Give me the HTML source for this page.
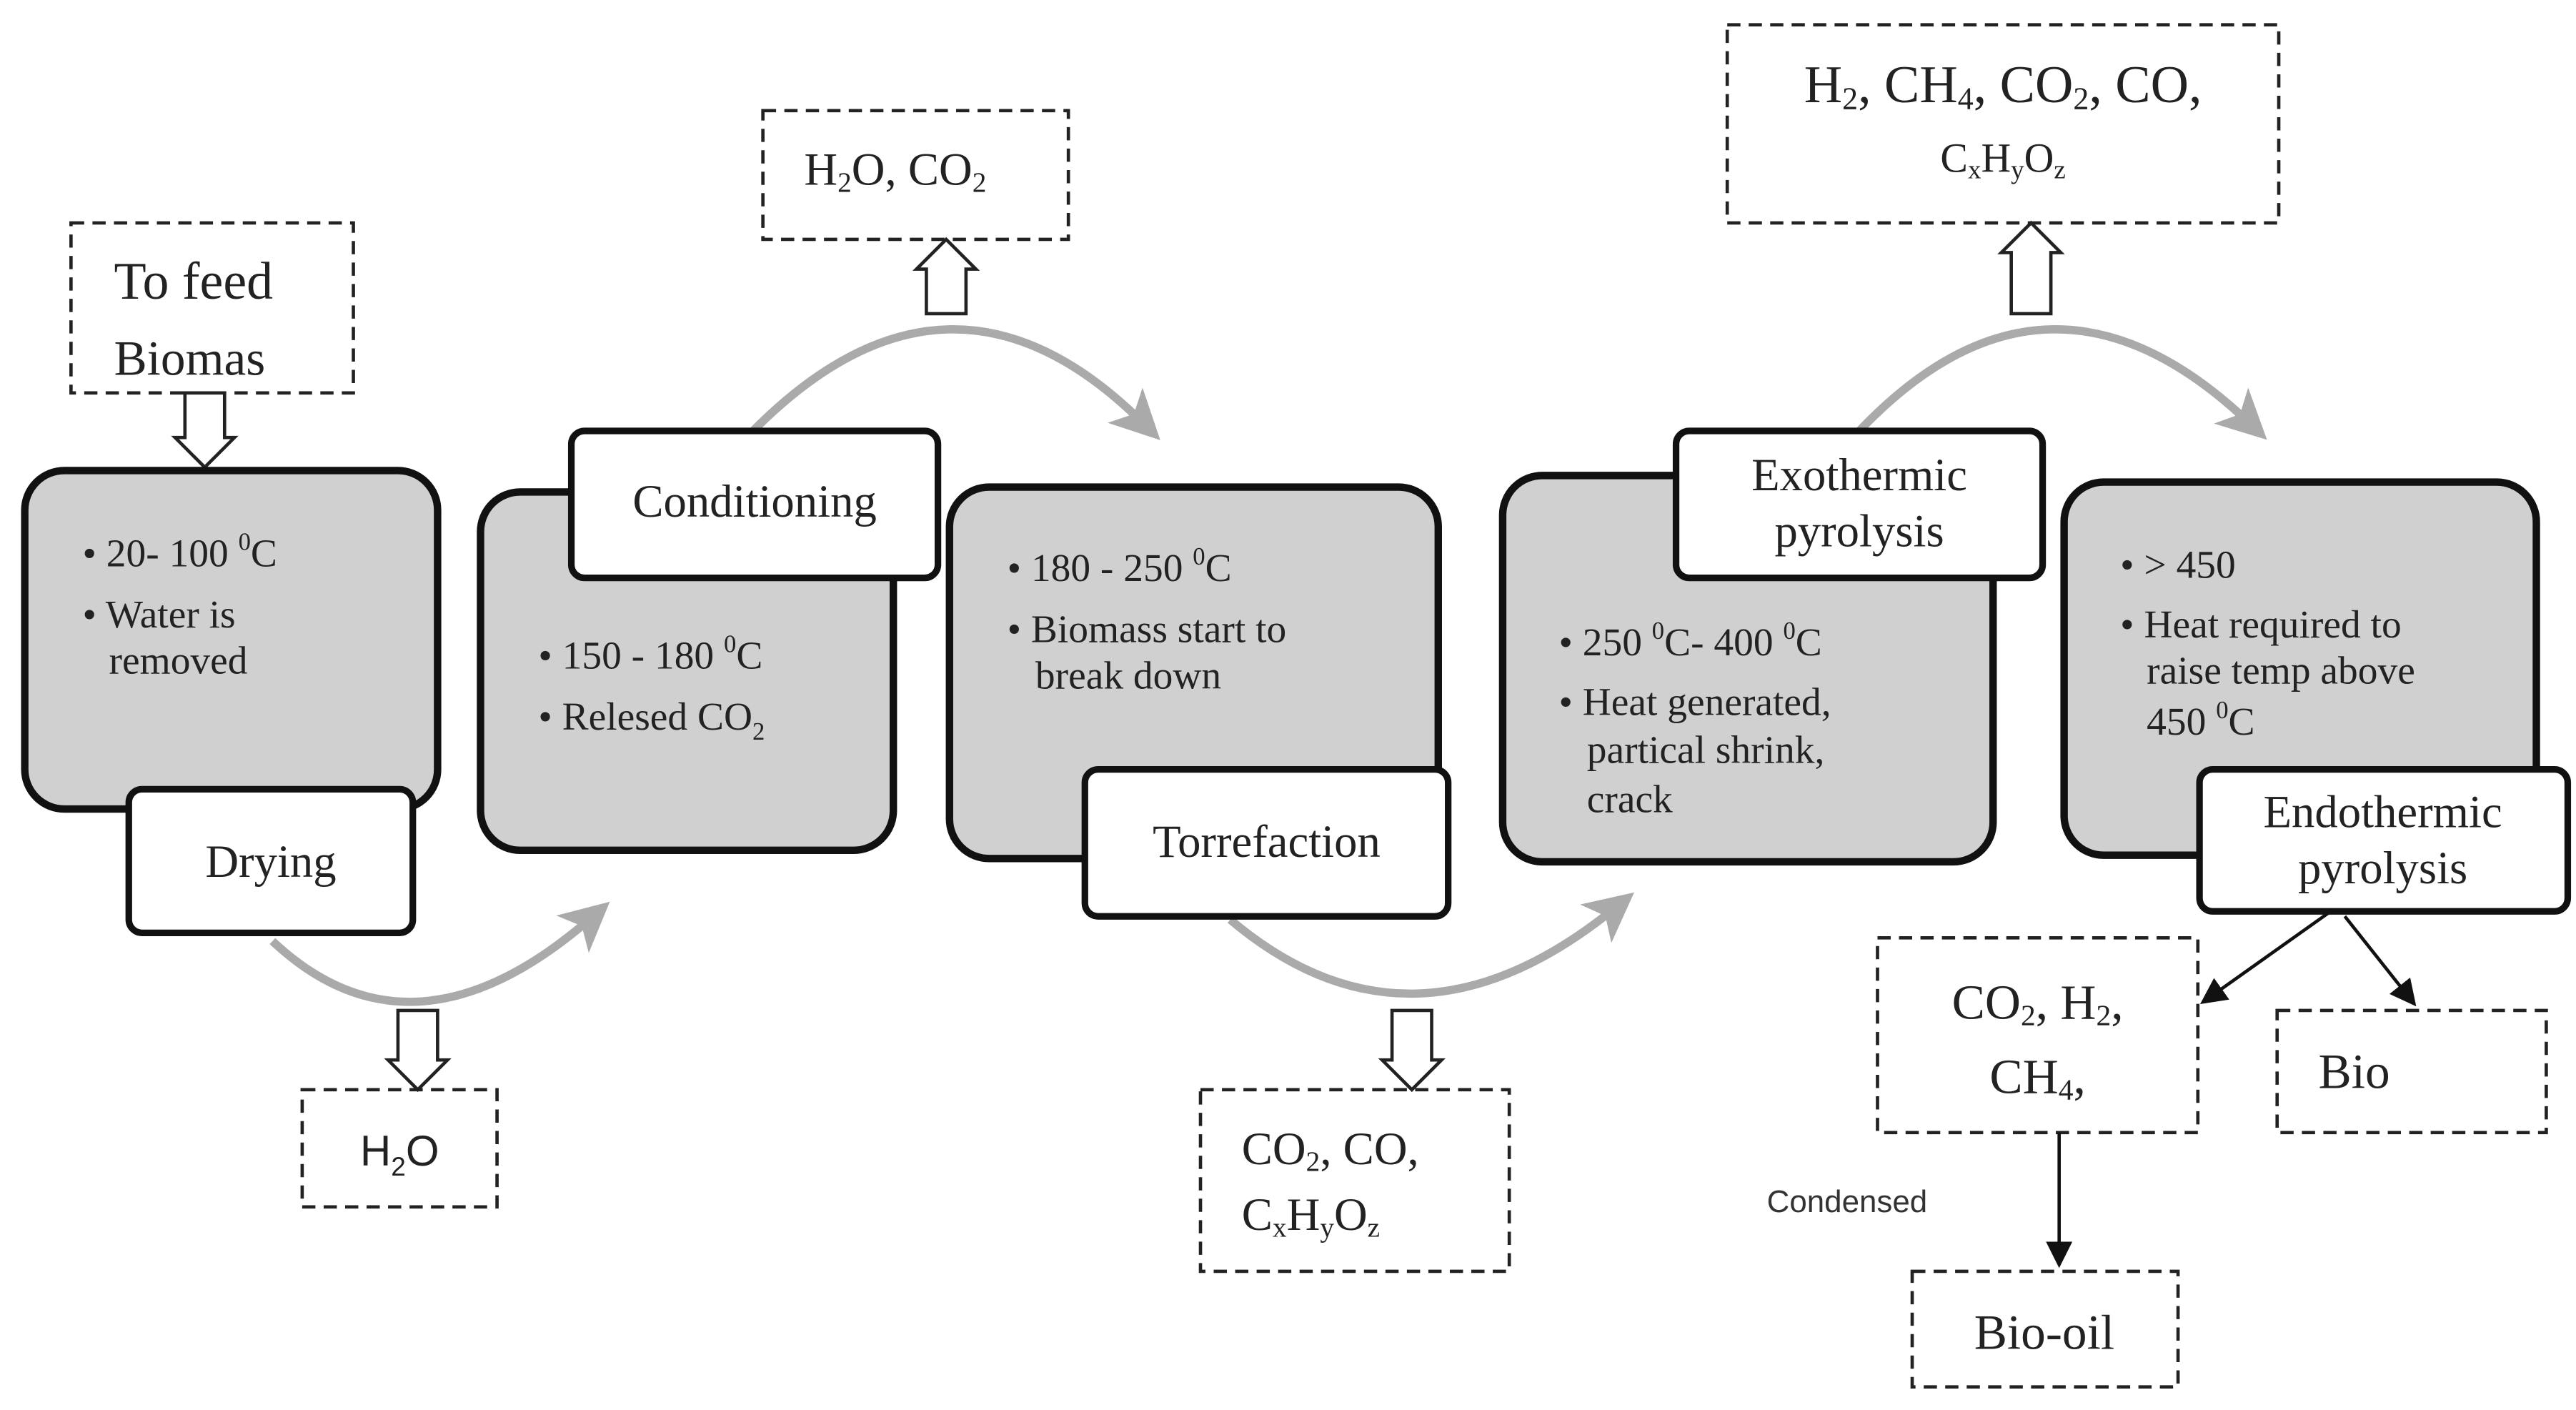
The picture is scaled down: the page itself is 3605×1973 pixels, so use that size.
<!DOCTYPE html>
<html><head><meta charset="utf-8"><style>
html,body{margin:0;padding:0;background:#fff;}
svg{display:block;}
text{font-family:"Liberation Serif",serif;fill:#222;}
.s{font-family:"Liberation Sans",sans-serif;}
</style></head><body>
<svg width="3605" height="1973" viewBox="0 0 1560 854" preserveAspectRatio="none" xmlns="http://www.w3.org/2000/svg">
<defs>
<marker id="ga" markerWidth="6" markerHeight="6" refX="3" refY="3" orient="auto" markerUnits="strokeWidth"><path d="M0,0 L6,3 L0,6 L1.5,3 z" fill="#aaa"/></marker>
<marker id="ba" markerWidth="8" markerHeight="8" refX="7" refY="4" orient="auto" markerUnits="strokeWidth"><path d="M0,0 L8,4 L0,8 z" fill="#111"/></marker>
</defs>
<g fill="none" stroke="#aaa" stroke-width="5">
<path d="M165,570 Q250,650 358,556" marker-end="url(#ga)"/>
<path d="M455,262 Q575,140 692,256" marker-end="url(#ga)"/>
<path d="M745,557 Q855,650 978,550" marker-end="url(#ga)"/>
<path d="M1125,262 Q1240,140 1362,256" marker-end="url(#ga)"/>
</g>
<g fill="none" stroke="#222" stroke-width="2" stroke-dasharray="8,5">
<rect x="43" y="135" width="171" height="103"/>
<rect x="183" y="660" width="118" height="71"/>
<rect x="462" y="67" width="185" height="78"/>
<rect x="727" y="660" width="187" height="110"/>
<rect x="1046" y="15" width="334" height="120"/>
<rect x="1137" y="568" width="194" height="118"/>
<rect x="1379" y="612" width="163" height="74"/>
<rect x="1158" y="770" width="161" height="70"/>
</g>
<g fill="#fff" stroke="#222" stroke-width="2">
<path d="M112,238 H136 V265 H142 L124,283 L106,265 H112 Z"/>
<path d="M241,612 H265 V642 H271 L253,660 L235,642 H241 Z"/>
<path d="M561,190 H585 V163 H591 L573,145 L555,163 H561 Z"/>
<path d="M843,612 H867 V642 H873 L855,660 L837,642 H843 Z"/>
<path d="M1218,190 H1242 V153 H1248 L1230,135 L1212,153 H1218 Z"/>
</g>
<g fill="#d0d0d0" stroke="#111" stroke-width="4.5">
<rect x="15" y="285" width="250" height="205" rx="24"/>
<rect x="291" y="298" width="250" height="217" rx="24"/>
<rect x="575" y="295" width="296" height="225" rx="24"/>
<rect x="910" y="288" width="297" height="234" rx="24"/>
<rect x="1250" y="292" width="286" height="226" rx="24"/>
</g>
<g fill="#fff" stroke="#111" stroke-width="4">
<rect x="78" y="478" width="172" height="87" rx="8"/>
<rect x="346" y="261" width="222" height="89" rx="8"/>
<rect x="657" y="466" width="220" height="89" rx="8"/>
<rect x="1015" y="261" width="222" height="89" rx="8"/>
<rect x="1332" y="466" width="223" height="86" rx="8"/>
</g>
<g stroke="#111" stroke-width="2" fill="none">
<line x1="1410" y1="553" x2="1334" y2="607" marker-end="url(#ba)"/>
<line x1="1420" y1="555" x2="1462" y2="608" marker-end="url(#ba)"/>
<line x1="1247" y1="686" x2="1247" y2="766" marker-end="url(#ba)"/>
</g>
<text x="69" y="181" font-size="32">To feed</text>
<text x="69" y="227" font-size="30">Biomas</text>
<text x="164" y="531" font-size="28" text-anchor="middle">Drying</text>
<text x="457" y="313" font-size="28" text-anchor="middle">Conditioning</text>
<text x="767" y="519" font-size="28" text-anchor="middle">Torrefaction</text>
<text x="1126" y="297" font-size="28" text-anchor="middle">Exothermic</text>
<text x="1126" y="331" font-size="28" text-anchor="middle">pyrolysis</text>
<text x="1443" y="501" font-size="28" text-anchor="middle">Endothermic</text>
<text x="1443" y="535" font-size="28" text-anchor="middle">pyrolysis</text>
<g font-size="24">
<text x="50" y="343">• 20- 100 <tspan font-size="15" dy="-10">0</tspan><tspan dy="10">C</tspan></text>
<text x="50" y="380">• Water is</text>
<text x="66" y="408">removed</text>
<text x="326" y="405">• 150 - 180 <tspan font-size="15" dy="-10">0</tspan><tspan dy="10">C</tspan></text>
<text x="326" y="442">•  Relesed CO<tspan font-size="15" dy="6">2</tspan></text>
<text x="610" y="352">• 180 - 250 <tspan font-size="15" dy="-10">0</tspan><tspan dy="10">C</tspan></text>
<text x="610" y="389">• Biomass  start to</text>
<text x="627" y="417">break down</text>
<text x="944" y="397">• 250 <tspan font-size="15" dy="-10">0</tspan><tspan dy="10">C- 400 </tspan><tspan font-size="15" dy="-10">0</tspan><tspan dy="10">C</tspan></text>
<text x="944" y="433">•  Heat generated,</text>
<text x="961" y="462">partical shrink,</text>
<text x="961" y="492">crack</text>
<text x="1284" y="350">• &gt; 450</text>
<text x="1284" y="386">• Heat  required to</text>
<text x="1300" y="414">raise temp above</text>
<text x="1300" y="445">450 <tspan font-size="15" dy="-10">0</tspan><tspan dy="10">C</tspan></text>
</g>
<text class="s" x="242" y="706" font-size="26" text-anchor="middle">H<tspan font-size="16" dy="6">2</tspan><tspan dy="-6">O</tspan></text>
<text x="487" y="112" font-size="28">H<tspan font-size="17" dy="4">2</tspan><tspan dy="-4">O, CO</tspan><tspan font-size="17" dy="4">2</tspan></text>
<text x="752" y="705" font-size="28">CO<tspan font-size="17" dy="4">2</tspan><tspan dy="-4">, CO,</tspan></text>
<text x="752" y="745" font-size="28">C<tspan font-size="17" dy="4">x</tspan><tspan dy="-4">H</tspan><tspan font-size="17" dy="4">y</tspan><tspan dy="-4">O</tspan><tspan font-size="17" dy="4">z</tspan></text>
<text x="1213" y="62" font-size="32" text-anchor="middle">H<tspan font-size="19" dy="4">2</tspan><tspan dy="-4">, CH</tspan><tspan font-size="19" dy="4">4</tspan><tspan dy="-4">, CO</tspan><tspan font-size="19" dy="4">2</tspan><tspan dy="-4">, CO,</tspan></text>
<text x="1213" y="104" font-size="25" text-anchor="middle">C<tspan font-size="16" dy="4">x</tspan><tspan dy="-4">H</tspan><tspan font-size="16" dy="4">y</tspan><tspan dy="-4">O</tspan><tspan font-size="16" dy="4">z</tspan></text>
<text x="1234" y="617" font-size="30" text-anchor="middle">CO<tspan font-size="18" dy="4">2</tspan><tspan dy="-4">, H</tspan><tspan font-size="18" dy="4">2</tspan><tspan dy="-4">,</tspan></text>
<text x="1234" y="662" font-size="30" text-anchor="middle">CH<tspan font-size="18" dy="4">4</tspan><tspan dy="-4">,</tspan></text>
<text x="1404" y="659" font-size="30">Bio</text>
<text x="1238" y="817" font-size="30" text-anchor="middle">Bio-oil</text>
<text class="s" x="1070" y="734" font-size="19" style="fill:#333">Condensed</text>
</svg>
</body></html>
